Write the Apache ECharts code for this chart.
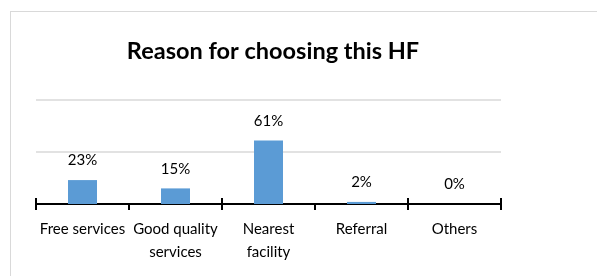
<!DOCTYPE html>
<html>
<head>
<meta charset="utf-8">
<script src="https://cdn.jsdelivr.net/npm/echarts@6/dist/echarts.min.js"></script>
<style>
  html, body { margin: 0; padding: 0; background: #fff; }
  #wrap { position: relative; width: 597px; height: 276px; overflow: hidden; }
  #frame { position: absolute; left: 10px; top: 11px; width: 700px; height: 400px; border: 1px solid #d9d9d9; }
  #chart { position: absolute; left: 0; top: 0; width: 597px; height: 276px; }
</style>
</head>
<body>
<div id="wrap">
  <div id="frame"></div>
  <div id="chart"></div>
</div>
<script>
// categories and values
const categories = ['Free services', 'Good quality\nservices', 'Nearest\nfacility', 'Referral', 'Others'];
const shares = [23, 15, 61, 2, 0];
const yTicks = [0, 50, 100];

const chart = echarts.init(document.getElementById('chart'));
const font = 'Lato, "Open Sans", sans-serif';

const option = {
  animation: false,
  title: {
    text: 'Reason for choosing this HF',
    left: 268,
    textAlign: 'center',
    top: 34,
    textStyle: { fontFamily: font, fontSize: 23.5, fontWeight: 'bold', color: '#000' }
  },
  grid: { left: 36, right: 96, top: 100, bottom: 72 },
  xAxis: [
    {
      type: 'category',
      data: categories,
      axisLine: { lineStyle: { color: '#000', width: 2 } },
      axisTick: { show: true, length: 6, lineStyle: { color: '#000', width: 2 } },
      axisLabel: {
        fontFamily: font, fontSize: 15, color: '#000',
        margin: 14, lineHeight: 23, interval: 0
      }
    },
    {
      type: 'category',
      data: categories,
      position: 'bottom',
      axisLine: { show: false },
      axisTick: { show: true, inside: true, length: 6, lineStyle: { color: '#000', width: 2 } },
      axisLabel: { show: false }
    }
  ],
  yAxis: {
    type: 'value',
    min: yTicks[0],
    max: yTicks[yTicks.length - 1],
    interval: yTicks[1] - yTicks[0],
    axisLabel: { show: false },
    axisLine: { show: false },
    axisTick: { show: false },
    splitLine: { lineStyle: { color: '#d9d9d9', width: 1.5 } }
  },
  series: [
    {
      type: 'bar',
      data: shares,
      barWidth: 29,
      itemStyle: { color: '#5b9bd5' },
      label: {
        show: true,
        position: 'top',
        distance: 12,
        formatter: '{c}%',
        fontFamily: font, fontSize: 15, color: '#000'
      }
    }
  ]
};

chart.setOption(option);
</script>
</body>
</html>
